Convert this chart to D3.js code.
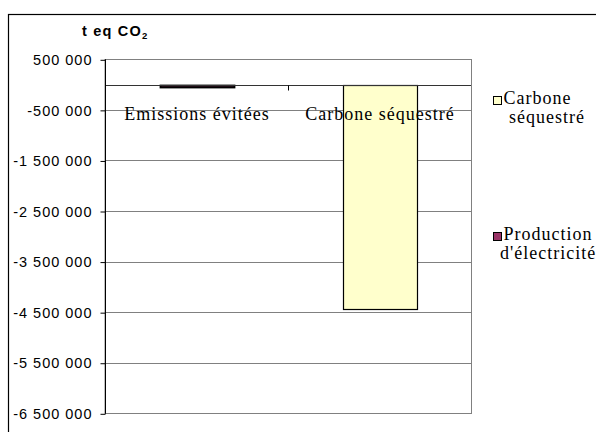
<!DOCTYPE html>
<html><head><meta charset="utf-8">
<script src="https://cdn.jsdelivr.net/npm/d3@7"></script>
<style>
html,body{margin:0;padding:0;background:#fff;overflow:hidden}
svg{display:block}
</style></head>
<body>
<script>
const categories = ["Emissions évitées", "Carbone séquestré"];
const seriesNames = ["Production d'électricité", "Carbone séquestré"];
const productionValues = [-40000, 0];
const carboneValues = [0, -4430000];
const seriesColors = ["#993366", "#FFFFCC"];
const tickValues = [500000, -500000, -1500000, -2500000, -3500000, -4500000, -5500000, -6500000];
const yDomain = [-6500000, 500000];
const legendOrder = [["Carbone", "séquestré"], ["Production", "d'électricité"]];
const legendColors = ["#FFFFCC", "#993366"];

const W = 596, H = 432;
const svg = d3.select("body").append("svg").attr("width", W).attr("height", H);
const serif = "Liberation Serif, Times New Roman, serif";
const sans = "Liberation Sans, Arial, sans-serif";

// outer chart border (top and left visible, rest cropped by the window)
svg.append("rect").attr("x", 8.5).attr("y", 14.5).attr("width", 700).attr("height", 500)
  .attr("fill", "none").attr("stroke", "#000").attr("stroke-width", 1.2);

const plot = {left: 105, right: 471, top: 59.3, bottom: 413.3};
const y = d3.scaleLinear().domain(yDomain).range([plot.bottom, plot.top]);
const x = d3.scaleBand().domain(categories).range([plot.left, plot.right]).padding(0);
const barRatio = 0.404;

// plot area border
svg.append("rect").attr("x", plot.left).attr("y", Math.round(plot.top) + 0.5)
  .attr("width", plot.right - plot.left + 0.5).attr("height", Math.round(plot.bottom) - Math.round(plot.top))
  .attr("fill", "#fff").attr("stroke", "#808080");

// gridlines
svg.append("g").selectAll("line").data(tickValues).join("line")
  .attr("x1", plot.left).attr("x2", plot.right + 0.5)
  .attr("y1", d => Math.round(y(d)) + 0.5).attr("y2", d => Math.round(y(d)) + 0.5)
  .attr("stroke", "#808080");

// bars (stacked: one non-zero value per category)
const stackData = categories.map((c, i) => ({cat: c, vals: [productionValues[i], carboneValues[i]]}));
const bw = x.bandwidth() * barRatio;
stackData.forEach(d => {
  let base = 0;
  d.vals.forEach((v, si) => {
    if (v === 0) return;
    const y0 = y(base), y1 = y(base + v);
    svg.append("rect")
      .attr("x", Math.round(x(d.cat) + (x.bandwidth() - bw) / 2) + 0.5)
      .attr("y", Math.round(Math.min(y0, y1)) + 0.5)
      .attr("width", Math.round(bw))
      .attr("height", Math.max(Math.round(Math.abs(y1 - y0)), 1))
      .attr("fill", seriesColors[si]).attr("stroke", "#000")
      .attr("stroke-width", si === 0 ? 1.8 : 1.2);
    base += v;
  });
});

// category axis at zero
const y0px = Math.round(y(0)) + 0.5;
svg.append("line").attr("x1", plot.left).attr("x2", plot.right).attr("y1", y0px).attr("y2", y0px)
  .attr("stroke", "#333");
const boundaries = categories.map(c => x(c)).concat([x(categories[categories.length - 1]) + x.bandwidth()]);
svg.append("g").selectAll("line").data(boundaries.slice(1, -1)).join("line")
  .attr("x1", d => Math.round(d) + 0.5).attr("x2", d => Math.round(d) + 0.5)
  .attr("y1", y0px).attr("y2", y0px + 5).attr("stroke", "#000");

// category labels (drawn over the bars)
svg.append("g").selectAll("text").data(categories).join("text")
  .attr("x", d => x(d) + x.bandwidth() / 2 + 0.5)
  .attr("y", 120)
  .attr("text-anchor", "middle")
  .attr("font-family", serif).attr("font-size", 18).attr("letter-spacing", 1)
  .attr("fill", "#000")
  .text(d => d);

// y axis
const loc = d3.formatLocale({decimal: ",", thousands: " ", grouping: [3], currency: ["", ""], minus: "-"});
const fmt = loc.format(",d");
const yAxis = d3.axisLeft(y).tickValues(tickValues).tickSize(5).tickPadding(8).tickFormat(fmt);
const gy = svg.append("g").attr("transform", `translate(${plot.left + 0.5},0.5)`).call(yAxis);
gy.select(".domain").attr("stroke", "#000").attr("d", `M0,${plot.top - 0.5}V${plot.bottom}`);
gy.selectAll(".tick line").attr("stroke", "#000");
gy.selectAll(".tick text").attr("font-family", sans).attr("font-size", 14.5)
  .attr("letter-spacing", 1).attr("fill", "#000");

// axis title
const title = svg.append("text").attr("x", 82).attr("y", 35.5)
  .attr("font-family", sans).attr("font-size", 14.5).attr("font-weight", "bold")
  .attr("letter-spacing", 1.2).attr("fill", "#000");
title.append("tspan").text("t eq CO");
title.append("tspan").attr("font-size", 9.5).attr("dy", 3).text("2");

// legend
const legendLayout = [
  {sq: [492.7, 95.7], l1: [503.5, 104], l2: [509, 123]},
  {sq: [492.7, 231.5], l1: [503.5, 240], l2: [500, 259]}
];
legendOrder.forEach((lines, i) => {
  const L = legendLayout[i];
  svg.append("rect").attr("x", Math.round(L.sq[0]) + 0.5).attr("y", Math.round(L.sq[1]) + 0.5).attr("width", 8).attr("height", 8)
    .attr("fill", legendColors[i]).attr("stroke", "#000");
  svg.append("text").attr("x", L.l1[0]).attr("y", L.l1[1])
    .attr("font-family", serif).attr("font-size", 18).attr("letter-spacing", 1).text(lines[0]);
  svg.append("text").attr("x", L.l2[0]).attr("y", L.l2[1])
    .attr("font-family", serif).attr("font-size", 18).attr("letter-spacing", 1).text(lines[1]);
});
</script>
</body></html>
